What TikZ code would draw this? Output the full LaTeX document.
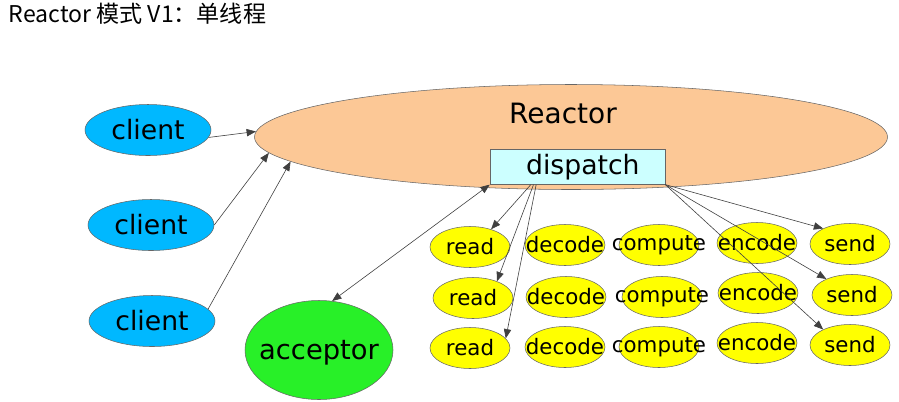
\documentclass[tikz,border=0pt]{standalone}
\usepackage{fontspec}
\setmainfont{DejaVu Sans}
\newfontfamily\cjk{Noto Sans CJK SC}
\usetikzlibrary{shapes.geometric,arrows.meta}
\definecolor{reactorcol}{RGB}{252,200,150}
\definecolor{dispatchcol}{RGB}{204,255,255}
\definecolor{clientcol}{RGB}{0,184,255}
\definecolor{acceptorcol}{RGB}{40,240,40}
\definecolor{jobcol}{RGB}{255,255,0}

\begin{document}
\begin{tikzpicture}[
    x=0.75pt, y=-0.75pt,
    >={Triangle[length=7pt,width=5.5pt]},
    oval/.style={ellipse, draw=black!60, inner sep=0pt, inner xsep=-20pt},
    clientbox/.style={oval, fill=clientcol, minimum width=94.5pt, minimum height=38.25pt, font=\fontsize{20}{24}\selectfont},
    job/.style={oval, fill=jobcol, minimum width=60pt, minimum height=30.75pt, font=\fontsize{16}{19}\selectfont},
    arrow/.style={->, draw=black!75, line width=0.45pt},
]
\useasboundingbox (0,0) rectangle (899,401);

% Title
\node[anchor=west, font=\cjk\fontsize{17.3}{20}\selectfont] (title) at (4,14) {Reactor 模式 V1：单线程};

% --- REACTOR ---
\node[oval, fill=reactorcol, minimum width=474.75pt, minimum height=78.75pt,
      label={[xshift=-6pt, yshift=18pt, font=\fontsize{21}{25}\selectfont]center:Reactor}] (reactor) at (571,137) {};
\node[rectangle, draw=black!60, fill=dispatchcol, minimum width=131.25pt, minimum height=25.5pt,
      font=\fontsize{20}{24}\selectfont] (dispatch) at (577.5,167) {\hspace{8pt}dispatch};

% --- CLIENTS ---
\node[clientbox] (client1) at (148,130) {client};
\node[clientbox] (client2) at (151,225) {client};
\node[clientbox] (client3) at (152,321) {client};

% Acceptor
\node[oval, fill=acceptorcol, minimum width=111pt, minimum height=74.25pt, text depth=0pt,
      font=\fontsize{20.5}{24}\selectfont] (acceptor) at (319,350) {acceptor};

% --- HANDLERS (3 rows) ---
\node[job] (read1) at (470,247) {read};
\node[job] (decode1) at (565,245) {decode};
\node[job] (compute1) at (659,245) {compute};
\node[job] (encode1) at (757,243) {encode};
\node[job] (send1) at (850,244) {send};

\node[job] (read2) at (473,298) {read};
\node[job] (decode2) at (566,297) {decode};
\node[job] (compute2) at (662,297) {compute};
\node[job] (encode2) at (758,293) {encode};
\node[job] (send2) at (852,295) {send};

\node[job] (read3) at (470,348) {read};
\node[job] (decode3) at (565,347) {decode};
\node[job] (compute3) at (659,347) {compute};
\node[job] (encode3) at (757,343) {encode};
\node[job] (send3) at (850,345) {send};

% Clients to reactor
\draw[arrow] (client1.-7) -- (reactor.179);
\draw[arrow] (client2.east) -- (reactor.183);
\draw[arrow] (client3.12) -- (reactor.185);

% Acceptor <-> dispatch
\draw[arrow, <->] (acceptor.75) -- (dispatch.south west);

% Dispatch to read / send
\draw[arrow] ([xshift=-35pt]dispatch.south) -- (read1.40);
\draw[arrow] ([xshift=-33pt]dispatch.south) -- (read2.35);
\draw[arrow] ([xshift=-31pt]dispatch.south) -- (read3.15);
\draw[arrow] (dispatch.south east) -- (send1.150);
\draw[arrow] (dispatch.south east) -- (send2.148);
\draw[arrow] (dispatch.south east) -- (send3.150);

\end{tikzpicture}
\end{document}
